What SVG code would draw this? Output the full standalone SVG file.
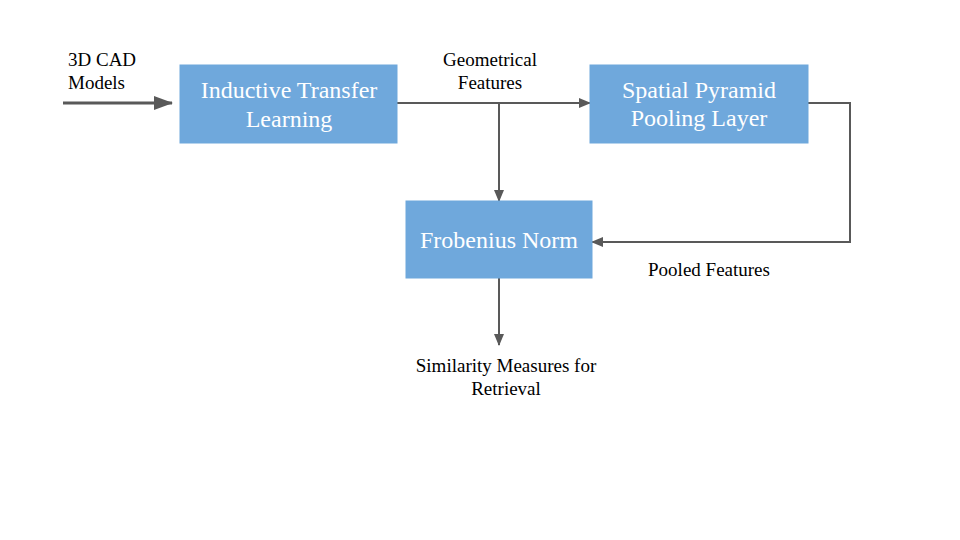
<svg xmlns="http://www.w3.org/2000/svg" width="960" height="540" viewBox="0 0 960 540">
<defs>
<marker id="ah" markerWidth="12" markerHeight="10" refX="11" refY="5" orient="auto" markerUnits="userSpaceOnUse">
<path d="M0,0 L12,5 L0,10 Z" fill="#595959"/>
</marker>
<marker id="ahb" markerWidth="19" markerHeight="14" refX="18" refY="7" orient="auto" markerUnits="userSpaceOnUse">
<path d="M0,0 L19,7 L0,14 Z" fill="#595959"/>
</marker>
<style>
.box{fill:#6fa8dc;stroke:#6fa8dc;}
.bt{font-family:"Liberation Serif",serif;font-size:24px;fill:#ffffff;text-anchor:middle;}
.lb{font-family:"Liberation Serif",serif;font-size:19px;fill:#000000;}
.c{fill:none;stroke:#595959;stroke-width:2;}
</style>
</defs>
<rect width="960" height="540" fill="#ffffff"/>
<g id="connectors">
<line x1="63" y1="103" x2="172" y2="103" stroke="#595959" stroke-width="3" marker-end="url(#ahb)"/>
<line class="c" x1="397" y1="103" x2="590" y2="103" marker-end="url(#ah)"/>
<line class="c" x1="499" y1="103" x2="499" y2="201" marker-end="url(#ah)"/>
<polyline class="c" points="808,103 850,103 850,242 592,242" marker-end="url(#ah)"/>
<line class="c" x1="499" y1="278" x2="499" y2="345" marker-end="url(#ah)"/>
</g>
<g id="input-label">
<text class="lb" x="68" y="66">3D CAD</text>
<text class="lb" x="68" y="89">Models</text>
</g>
<g id="itl">
<rect class="box" x="180" y="65" width="217" height="78"/>
<text class="bt" x="289" y="98">Inductive Transfer</text>
<text class="bt" x="289" y="127">Learning</text>
</g>
<g id="spp">
<rect class="box" x="590" y="65" width="218" height="78"/>
<text class="bt" x="699" y="98">Spatial Pyramid</text>
<text class="bt" x="699" y="126">Pooling Layer</text>
</g>
<g id="fn">
<rect class="box" x="406" y="201" width="186" height="77"/>
<text class="bt" x="499" y="248">Frobenius Norm</text>
</g>
<g id="labels">
<text class="lb" x="490" y="66" text-anchor="middle">Geometrical</text>
<text class="lb" x="490" y="89" text-anchor="middle">Features</text>
<text class="lb" x="709" y="276" text-anchor="middle">Pooled Features</text>
<text class="lb" x="506" y="372" text-anchor="middle">Similarity Measures for</text>
<text class="lb" x="506" y="395" text-anchor="middle">Retrieval</text>
</g>
</svg>
